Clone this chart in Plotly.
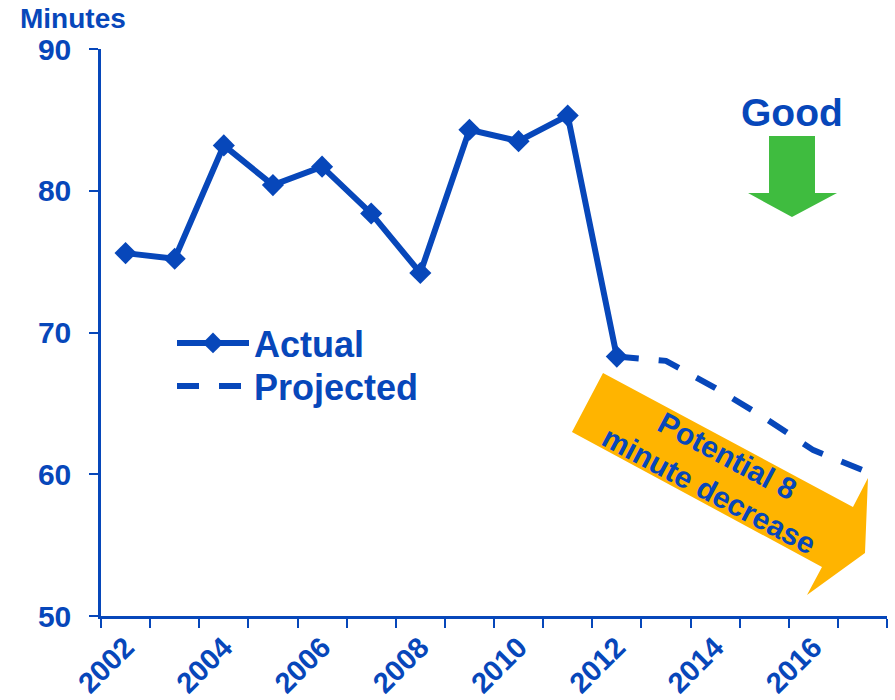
import plotly.graph_objects as go

# Observed and projected minutes per year
actual_years = [2002, 2003, 2004, 2005, 2006, 2007, 2008, 2009, 2010, 2011, 2012]
actual_minutes = [75.6, 75.2, 83.2, 80.4, 81.7, 78.4, 74.2, 84.3, 83.5, 85.3, 68.3]

projected_years = [2012, 2013, 2014, 2015, 2016, 2017]
projected_minutes = [68.3, 68.0, 66.1, 64.0, 61.7, 60.3]

tick_years = [2002, 2004, 2006, 2008, 2010, 2012, 2014, 2016]
y_ticks = [50, 60, 70, 80, 90]

BLUE = "#0747BA"
ORANGE = "#FFB400"
GREEN = "#3FBC3F"
FONT = "Liberation Sans, Arial, sans-serif"

W, H = 895, 700
M_L, M_R, M_T, M_B = 101, 8, 49, 84
PW, PH = W - M_L - M_R, H - M_T - M_B


def px(x, y):
    """Convert page pixels to paper coordinates."""
    return (x - M_L) / PW, (H - M_B - y) / PH


def path(points):
    pts = [px(x, y) for x, y in points]
    return "M " + " L ".join(f"{a:.4f},{b:.4f}" for a, b in pts) + " Z"


fig = go.Figure()

fig.add_trace(go.Scatter(
    x=projected_years, y=projected_minutes, name="Projected", mode="lines",
    line=dict(color=BLUE, width=6, dash="22px,20px"),
    legend="legend2",
))
fig.add_trace(go.Scatter(
    x=actual_years, y=actual_minutes, name="Actual", mode="lines+markers",
    line=dict(color=BLUE, width=6),
    marker=dict(symbol="diamond", size=17, color=BLUE),
    legend="legend",
))

shapes = [
    # orange "decrease" arrow
    dict(type="path", xref="paper", yref="paper", layer="below",
         path=path([(603, 373), (853, 507), (868, 478), (865, 553),
                    (807, 595), (822, 567), (572, 432)]),
         fillcolor=ORANGE, line=dict(width=0)),
    # green "good" arrow
    dict(type="path", xref="paper", yref="paper",
         path=path([(769, 136), (815, 136), (815, 193), (837, 193),
                    (792, 217), (748, 193), (769, 193)]),
         fillcolor=GREEN, line=dict(width=0)),
]

ax, ay = px(18, 19)
gx, gy = px(792, 112)
tx, ty = px(718, 473)
annotations = [
    dict(text="<b>Minutes</b>", xref="paper", yref="paper", x=ax, y=ay,
         xanchor="left", yanchor="middle", showarrow=False,
         font=dict(family=FONT, size=28, color=BLUE)),
    dict(text="<b>Good</b>", xref="paper", yref="paper", x=gx, y=gy,
         xanchor="center", yanchor="middle", showarrow=False,
         font=dict(family=FONT, size=39, color=BLUE)),
    dict(text="<b>Potential 8<br>minute decrease</b>", xref="paper", yref="paper",
         x=tx, y=ty, xanchor="center", yanchor="middle", showarrow=False,
         textangle=28, font=dict(family=FONT, size=30, color=BLUE)),
]

legend_font = dict(family=FONT, size=36, color=BLUE, weight="bold")
l1x, l1y = px(172, 343)
l2x, l2y = px(172, 386)
fig.update_layout(
    width=W, height=H,
    margin=dict(l=M_L, r=M_R, t=M_T, b=M_B, autoexpand=False),
    paper_bgcolor="white", plot_bgcolor="white",
    font=dict(family=FONT, color=BLUE),
    showlegend=True,
    legend=dict(x=l1x, y=l1y, xanchor="left", yanchor="middle",
                itemwidth=72, bgcolor="rgba(0,0,0,0)", font=legend_font),
    legend2=dict(x=l2x, y=l2y, xanchor="left", yanchor="middle",
                 itemwidth=72, bgcolor="rgba(0,0,0,0)", font=legend_font),
    shapes=shapes,
    annotations=annotations,
    xaxis=dict(
        range=[2001.5, 2017.5], tickmode="array", tickvals=tick_years,
        ticktext=[str(v) for v in tick_years], tickangle=-45, ticks="",
        automargin=False,
        showgrid=False, zeroline=False, showline=True, linecolor=BLUE,
        linewidth=2.5,
        tickfont=dict(family=FONT, size=29, color=BLUE, weight="bold"),
        minor=dict(tickmode="array",
                   tickvals=[y + 0.5 for y in range(2001, 2018)],
                   ticks="outside", ticklen=9, tickwidth=2, tickcolor=BLUE,
                   showgrid=False),
    ),
    yaxis=dict(
        range=[50, 90], tickmode="array", tickvals=y_ticks,
        ticks="outside", ticklen=9, tickwidth=2, tickcolor=BLUE,
        automargin=False,
        showgrid=False, zeroline=False, showline=True, linecolor=BLUE,
        linewidth=2.5, ticklabelstandoff=12,
        tickfont=dict(family=FONT, size=30, color=BLUE, weight="bold"),
    ),
)

fig.write_html("out.html")
